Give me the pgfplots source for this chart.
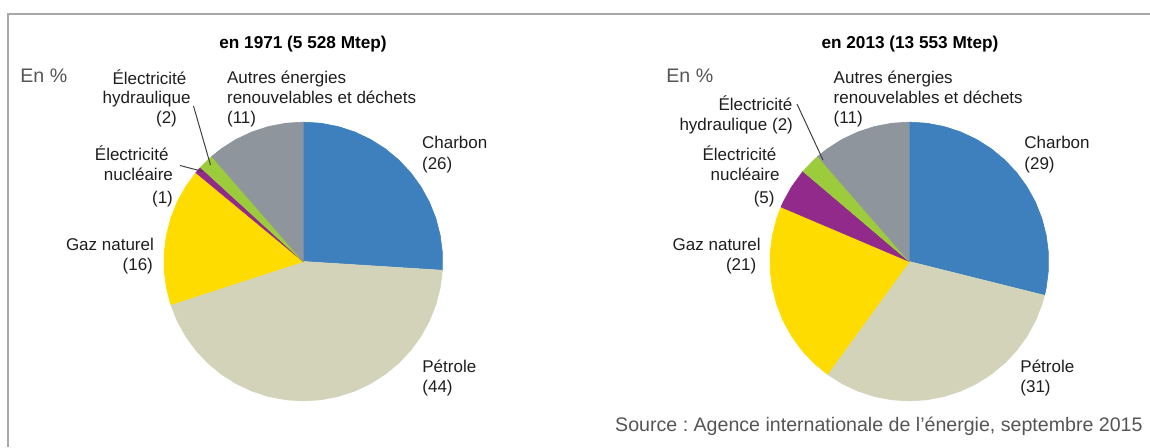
\documentclass[border=0pt]{standalone}
\usepackage{fontspec}
\setmainfont{Liberation Sans}
\usepackage{xcolor}
\usepackage{pgfplots}
\pgfplotsset{compat=1.18}
\usepgfplotslibrary{polar}
\frenchspacing

\definecolor{charbon}{HTML}{3D80BD}
\definecolor{petrole}{HTML}{D3D3BA}
\definecolor{gaz}{HTML}{FFDC00}
\definecolor{nucl}{HTML}{922A8C}
\definecolor{hydro}{HTML}{9CCB3C}
\definecolor{autres}{HTML}{8F959C}
\definecolor{frame}{HTML}{A8A8A8}
\definecolor{txt}{HTML}{1E1E1E}
\definecolor{soft}{HTML}{555555}

% x of each point = cumulative share in %, turned clockwise from 12 o'clock
\pgfplotsset{pie/.style={
    at={(#1pt,-130.75pt)}, anchor=origin,
    scale only axis, width=139.4pt, height=139.4pt,
    hide axis, clip=false, ymin=0, ymax=1,
    x filter/.expression={90-3.6*x}},
  slice/.style={fill=#1, draw=#1, line width=0.3pt}}

\newcommand{\lab}[4]{\node[anchor=base #1, inner sep=0pt, text=txt,
  font=\fontsize{8.5}{10}\selectfont] at (#2,#3) {#4};}

\begin{document}
\begin{tikzpicture}
\begin{scope}[x=0.5pt, y=-0.5pt]
\useasboundingbox (0,0) rectangle (1150,447);
\draw[frame, line width=1pt] (7.5,447) -- (7.5,13.5) -- (1150,13.5);
\end{scope}

% 1971 : charbon 26, petrole 44, gaz 16, nucleaire 1, hydraulique 2, autres 11
\begin{polaraxis}[pie=151.65]
\addplot[slice=charbon] coordinates {(0,0) (0,1) (2,1) (4,1) (6,1) (8,1) (10,1)
  (12,1) (14,1) (16,1) (18,1) (20,1) (22,1) (24,1) (26,1)};
\addplot[slice=petrole] coordinates {(26,0) (26,1) (28,1) (30,1) (32,1) (34,1)
  (36,1) (38,1) (40,1) (42,1) (44,1) (46,1) (48,1) (50,1) (52,1) (54,1) (56,1)
  (58,1) (60,1) (62,1) (64,1) (66,1) (68,1) (70,1)};
\addplot[slice=gaz] coordinates {(70,0) (70,1) (72,1) (74,1) (76,1) (78,1)
  (80,1) (82,1) (84,1) (86,1)};
\addplot[slice=nucl] coordinates {(86,0) (86,1) (86.8,1)};
\addplot[slice=hydro] coordinates {(86.8,0) (86.8,1) (88,1) (88.6,1)};
\addplot[slice=autres] coordinates {(88.6,0) (88.6,1) (90,1) (92,1) (94,1)
  (96,1) (98,1) (100,1)};
\end{polaraxis}

% 2013 : charbon 29, petrole 31, gaz 21, nucleaire 5, hydraulique 2, autres 11
\begin{polaraxis}[pie=454.65]
\addplot[slice=charbon] coordinates {(0,0) (0,1) (2,1) (4,1) (6,1) (8,1) (10,1)
  (12,1) (14,1) (16,1) (18,1) (20,1) (22,1) (24,1) (26,1) (28,1) (28.9,1)};
\addplot[slice=petrole] coordinates {(28.9,0) (28.9,1) (30,1) (32,1) (34,1)
  (36,1) (38,1) (40,1) (42,1) (44,1) (46,1) (48,1) (50,1) (52,1) (54,1) (56,1)
  (58,1) (60,1)};
\addplot[slice=gaz] coordinates {(60,0) (60,1) (62,1) (64,1) (66,1) (68,1)
  (70,1) (72,1) (74,1) (76,1) (78,1) (80,1) (81.4,1)};
\addplot[slice=nucl] coordinates {(81.4,0) (81.4,1) (82,1) (84,1) (86,1) (86.2,1)};
\addplot[slice=hydro] coordinates {(86.2,0) (86.2,1) (88,1) (88.6,1)};
\addplot[slice=autres] coordinates {(88.6,0) (88.6,1) (90,1) (92,1) (94,1)
  (96,1) (98,1) (100,1)};
\end{polaraxis}

\begin{scope}[x=0.5pt, y=-0.5pt]
% titles
\node[anchor=base, inner sep=0pt, font=\fontsize{8.6}{10}\selectfont\bfseries]
  at (303,48) {en 1971 (5 528 Mtep)};
\node[anchor=base, inner sep=0pt, font=\fontsize{8.6}{10}\selectfont\bfseries]
  at (910,48) {en 2013 (13 553 Mtep)};
\node[anchor=base west, inner sep=0pt, text=soft, font=\fontsize{9.8}{12}\selectfont]
  at (20,82.7) {En \%};
\node[anchor=base west, inner sep=0pt, text=soft, font=\fontsize{9.8}{12}\selectfont]
  at (666,82.7) {En \%};

% leader lines
\draw[txt!85, line width=0.5pt] (193.5,106) -- (210.5,165);
\draw[txt!85, line width=0.5pt] (180,165.5) -- (203,171.5);
\draw[txt!85, line width=0.5pt] (797,104) -- (823,160);

% 1971 labels
\lab{east}{186.7}{84}{Électricité}
\lab{east}{191}{103.5}{hydraulique}
\lab{east}{177.3}{123}{(2)}
\lab{west}{226.7}{83}{Autres énergies}
\lab{west}{226.7}{103}{renouvelables et déchets}
\lab{west}{226.7}{123}{(11)}
\lab{west}{421.7}{148.3}{Charbon}
\lab{west}{421.7}{169}{(26)}
\lab{east}{169}{160.7}{Électricité}
\lab{east}{173.3}{180.7}{nucléaire}
\lab{east}{173.3}{203}{(1)}
\lab{east}{154.3}{250}{Gaz naturel}
\lab{east}{153.3}{270.7}{(16)}
\lab{west}{422}{372}{Pétrole}
\lab{west}{422}{392}{(44)}

% 2013 labels
\lab{east}{792.7}{110}{Électricité}
\lab{east}{793.3}{130}{hydraulique (2)}
\lab{west}{833.3}{83}{Autres énergies}
\lab{west}{833.3}{103}{renouvelables et déchets}
\lab{west}{833.3}{123}{(11)}
\lab{west}{1024}{148.3}{Charbon}
\lab{west}{1024}{169}{(29)}
\lab{east}{776.7}{160.7}{Électricité}
\lab{east}{780}{180.7}{nucléaire}
\lab{east}{775}{203}{(5)}
\lab{east}{761}{250}{Gaz naturel}
\lab{east}{756.7}{270.7}{(21)}
\lab{west}{1020}{372}{Pétrole}
\lab{west}{1020}{392}{(31)}

\node[anchor=base east, inner sep=0pt, text=soft, font=\fontsize{9.8}{12}\selectfont]
  at (1143,431.5) {Source : Agence internationale de l’énergie, septembre 2015};
\end{scope}
\end{tikzpicture}
\end{document}
